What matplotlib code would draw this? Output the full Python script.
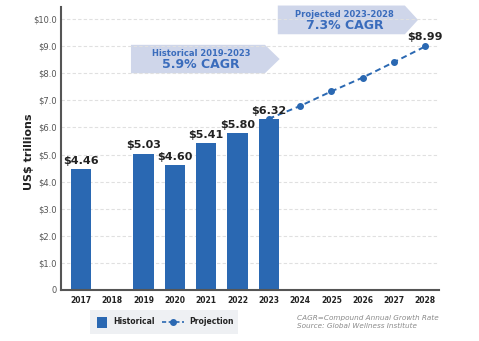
import matplotlib
matplotlib.use('Agg')
import matplotlib.pyplot as plt
from matplotlib.patches import Polygon, Rectangle
from matplotlib.lines import Line2D

years = ['2017', '2018', '2019', '2020', '2021', '2022', '2023',
         '2024', '2025', '2026', '2027', '2028']
hist_years = ['2017', '2019', '2020', '2021', '2022', '2023']
hist_vals = [4.46, 5.03, 4.60, 5.41, 5.80, 6.32]
proj_years = ['2023', '2024', '2025', '2026', '2027', '2028']
proj_vals = [6.32, 6.79, 7.33, 7.84, 8.41, 8.99]
yticks = [0, 1, 2, 3, 4, 5, 6, 7, 8, 9, 10]
ytick_labels = ['0', '$1.0', '$2.0', '$3.0', '$4.0', '$5.0', '$6.0',
                '$7.0', '$8.0', '$9.0', '$10.0']

blue = '#2a68b2'
box_col = '#cfd6ea'
txt_blue = '#3a6cbc'

plt.rcParams['font.family'] = ['DejaVu Sans']

fig = plt.figure(figsize=(4.79, 3.41), dpi=100)
ax = fig.add_axes([0.127, 0.1496, 0.7895, 0.8294])

pos = {y: i for i, y in enumerate(years)}
hx = [pos[y] for y in hist_years]
px = [pos[y] for y in proj_years]

ax.bar(hx, hist_vals, width=0.65, color=blue, zorder=2)
ax.plot(px, proj_vals, color=blue, lw=1.4, ls=(0, (3, 2)), marker='o', ms=4, zorder=3)

for x, v in zip(hx, hist_vals):
    ax.text(x, v + 0.12, f'${v:.2f}', ha='center', va='bottom',
            fontsize=8, fontweight='bold', color='#222222')
ax.text(px[-1], proj_vals[-1] + 0.15, f'${proj_vals[-1]:.2f}', ha='center',
        va='bottom', fontsize=8, fontweight='bold', color='#222222')

ax.set_xlim(-0.64, 11.44)
ax.set_ylim(0, 10.44)
ax.set_xticks(range(len(years)))
ax.set_xticklabels(years, fontsize=5.5, fontweight='bold', color='#222222')
ax.set_yticks(yticks)
ax.set_yticklabels(ytick_labels, fontsize=6, color='#555555')
ax.tick_params(axis='y', length=0, pad=3)
ax.tick_params(axis='x', length=0, pad=4)
ax.grid(axis='y', linestyle=(0, (3, 2)), color='#e0e0e0', lw=0.8, zorder=0)
for s in ['top', 'right']:
    ax.spines[s].set_visible(False)
for s in ['left', 'bottom']:
    ax.spines[s].set_color('#555555')
    ax.spines[s].set_linewidth(1.5)
ax.set_ylabel('US$ trillions', fontsize=8, fontweight='bold', color='#222222')
ax.yaxis.set_label_coords(-0.07, 0.49)

# CAGR arrow boxes (data coords)
def arrow_box(x0, x1, xt, y0, y1, t1, t2):
    ym = (y0 + y1) / 2
    poly = Polygon([(x0, y0), (x1, y0), (xt, ym), (x1, y1), (x0, y1)],
                   closed=True, color=box_col, zorder=1, clip_on=False, lw=0)
    ax.add_patch(poly)
    cx = (x0 + x1) / 2 + 0.1
    ax.text(cx, ym + 0.2, t1, ha='center', va='center', fontsize=6,
            fontweight='bold', color=txt_blue, zorder=4)
    ax.text(cx, ym - 0.2, t2, ha='center', va='center', fontsize=9,
            fontweight='bold', color=txt_blue, zorder=4)

arrow_box(1.6, 5.88, 6.35, 8.0, 9.05, 'Historical 2019-2023', '5.9% CAGR')
arrow_box(6.29, 10.35, 10.77, 9.44, 10.5, 'Projected 2023-2028', '7.3% CAGR')

# legend box
fig.patches.append(Rectangle((90 / 479, 1 - 334 / 341), 148 / 479, 24 / 341,
                             transform=fig.transFigure, color='#eef0f3', lw=0))
fig.patches.append(Rectangle((97 / 479, 1 - 328 / 341), 10 / 479, 11 / 341,
                             transform=fig.transFigure, color=blue, lw=0))
fig.text(113 / 479, 1 - 322 / 341, 'Historical', fontsize=5.5, fontweight='bold',
         color='#222222', va='center')
fig.lines.append(Line2D([162 / 479, 184 / 479], [1 - 322 / 341, 1 - 322 / 341],
                        transform=fig.transFigure, ls=(0, (2.5, 1.5)), color=blue, lw=1.2))
fig.lines.append(Line2D([173 / 479], [1 - 322 / 341], transform=fig.transFigure,
                        marker='o', ms=4, color=blue))
fig.text(189 / 479, 1 - 322 / 341, 'Projection', fontsize=5.5, fontweight='bold',
         color='#222222', va='center')

fig.text(297 / 479, 1 - 318 / 341, 'CAGR=Compound Annual Growth Rate',
         fontsize=5.2, style='italic', color='#8a8a8a', va='center')
fig.text(297 / 479, 1 - 326 / 341, 'Source: Global Wellness Institute',
         fontsize=5.2, style='italic', color='#8a8a8a', va='center')

fig.savefig('out.png', dpi=100)
